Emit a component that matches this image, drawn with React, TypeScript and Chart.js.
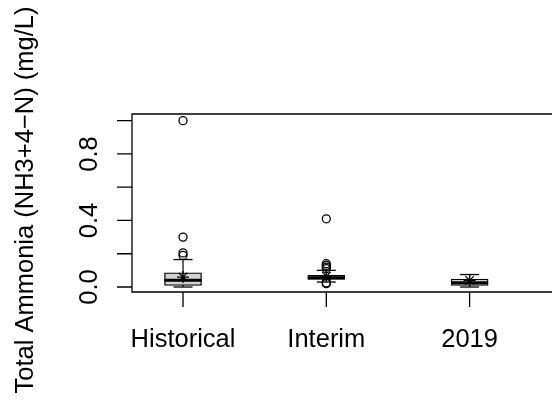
import React, { useEffect, useRef } from 'react';
import { Chart, registerables } from 'chart.js';

Chart.register(...registerables);

// ---- data ----
const categories = ['Historical', 'Interim', '2019'];
const positions = [1, 2, 3];
const whiskerLow = [0.0, 0.03, 0.0];
const q1 = [0.01, 0.045, 0.01];
const medians = [0.04, 0.055, 0.025];
const q3 = [0.085, 0.07, 0.048];
const whiskerHigh = [0.165, 0.1, 0.075];
const means = [0.06, 0.065, 0.04];
const outliersHistorical = [1.0, 0.3, 0.205, 0.19];
const outliersInterim = [0.41, 0.14, 0.13, 0.12, 0.11, 0.025, 0.02];
const outliers2019: number[] = [];
const yTicks = [0, 0.2, 0.4, 0.6, 0.8, 1.0];
const yTickLabels = ['0.0', '', '0.4', '', '0.8', ''];
const yTitle = 'Total Ammonia (NH3+4\u2212N) (mg/L)';

const FONT = '"Liberation Sans", Arial, Helvetica, sans-serif';
const FONT_SIZE = 25.5;

const rAxesPlugin = {
  id: 'rAxes',
  afterDraw(chart: any) {
    const { ctx, chartArea, scales } = chart;
    const { left, top, right, bottom } = chartArea;
    const xs = scales.x;
    const ys = scales.y;
    ctx.save();
    ctx.strokeStyle = '#000';
    ctx.fillStyle = '#000';
    ctx.lineWidth = 1.3;
    // frame (right side is outside the picture)
    ctx.beginPath();
    ctx.moveTo(right + 10, top);
    ctx.lineTo(left, top);
    ctx.lineTo(left, bottom);
    ctx.lineTo(right + 10, bottom);
    ctx.stroke();
    // y ticks
    ctx.beginPath();
    yTicks.forEach((v) => {
      const py = ys.getPixelForValue(v);
      ctx.moveTo(left - 15, py);
      ctx.lineTo(left, py);
    });
    // x ticks
    positions.forEach((p) => {
      const px = xs.getPixelForValue(p);
      ctx.moveTo(px, bottom);
      ctx.lineTo(px, bottom + 15);
    });
    ctx.stroke();
    // y tick labels (rotated)
    ctx.font = `${FONT_SIZE}px ${FONT}`;
    yTicks.forEach((v, i) => {
      const lab = yTickLabels[i];
      if (!lab) return;
      const py = ys.getPixelForValue(v);
      ctx.save();
      ctx.translate(left - 35, py);
      ctx.rotate(-Math.PI / 2);
      ctx.textAlign = 'center';
      ctx.textBaseline = 'alphabetic';
      ctx.fillText(lab, 0, 0);
      ctx.restore();
    });
    // x labels
    ctx.textAlign = 'center';
    ctx.textBaseline = 'alphabetic';
    positions.forEach((p, i) => {
      const px = xs.getPixelForValue(p);
      ctx.fillText(categories[i], px, bottom + 55);
    });
    // y title
    ctx.save();
    ctx.translate(33, 200);
    ctx.rotate(-Math.PI / 2);
    ctx.textAlign = 'center';
    ctx.textBaseline = 'alphabetic';
    ctx.fillText(yTitle, 0, 0);
    ctx.restore();
    ctx.restore();
  },
};

export default function App() {
  const ref = useRef<HTMLCanvasElement | null>(null);
  useEffect(() => {
    if (!ref.current) return;
    const outlierPts: { x: number; y: number }[] = [];
    outliersHistorical.forEach((v) => outlierPts.push({ x: positions[0], y: v }));
    outliersInterim.forEach((v) => outlierPts.push({ x: positions[1], y: v }));
    outliers2019.forEach((v) => outlierPts.push({ x: positions[2], y: v }));

    const whiskerSets = positions.map((p, i) => ({
      type: 'line' as const,
      data: [
        { x: p, y: whiskerLow[i] },
        { x: p, y: whiskerHigh[i] },
      ],
      borderColor: '#000',
      borderWidth: 1.2,
      pointRadius: 0,
      fill: false,
      order: 10,
    }));

    const chart = new Chart(ref.current, {
      type: 'scatter',
      data: {
        datasets: [
          ...whiskerSets,
          {
            type: 'bar',
            data: positions.map((p, i) => ({ x: p, y: [q1[i], q3[i]] })),
            backgroundColor: '#d3d3d3',
            borderColor: '#000',
            borderWidth: 1.3,
            borderSkipped: false,
            barThickness: 37,
            grouped: false,
            order: 8,
          } as any,
          {
            type: 'scatter',
            data: [
              ...positions.map((p, i) => ({ x: p, y: whiskerLow[i] })),
              ...positions.map((p, i) => ({ x: p, y: whiskerHigh[i] })),
            ],
            pointStyle: 'line',
            pointRadius: 9.5,
            borderColor: '#000',
            borderWidth: 1.3,
            order: 6,
          },
          {
            type: 'scatter',
            data: positions.map((p, i) => ({ x: p, y: medians[i] })),
            pointStyle: 'line',
            pointRadius: 18.5,
            borderColor: '#000',
            borderWidth: 3,
            order: 4,
          },
          {
            type: 'scatter',
            data: positions.map((p, i) => ({ x: p, y: means[i] })),
            pointStyle: 'star',
            pointRadius: 6,
            borderColor: '#000',
            borderWidth: 1.3,
            order: 2,
          },
          {
            type: 'scatter',
            data: outlierPts,
            pointStyle: 'circle',
            pointRadius: 4,
            backgroundColor: 'rgba(0,0,0,0)',
            borderColor: '#000',
            borderWidth: 1.3,
            order: 0,
          },
        ],
      },
      options: {
        animation: false,
        responsive: false,
        devicePixelRatio: 1,
        layout: { autoPadding: false, padding: { left: 132, top: 114, right: 0, bottom: 113 } },
        scales: {
          x: { type: 'linear', min: 0.644, max: 3.575, offset: false, display: false },
          y: { type: 'linear', min: -0.03, max: 1.04, offset: false, display: false },
        },
        plugins: {
          legend: { display: false },
          tooltip: { enabled: false },
        },
      },
      plugins: [rAxesPlugin],
    } as any);
    return () => chart.destroy();
  }, []);

  return (
    <div style={{ position: 'absolute', left: 0, top: 0, width: 552, height: 405, background: '#fff' }}>
      <canvas ref={ref} width={552} height={405} style={{ display: 'block', width: 552, height: 405 }} />
    </div>
  );
}
